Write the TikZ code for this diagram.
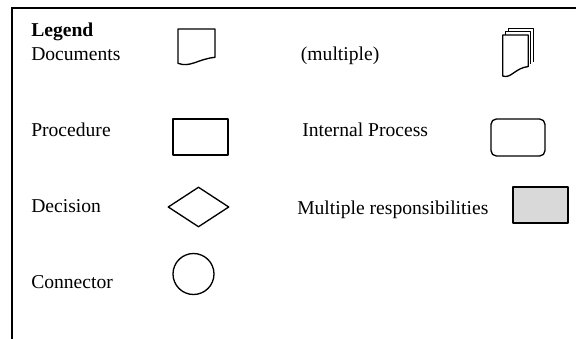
\documentclass[tikz,border=0pt]{standalone}
\usepackage{fontspec}
\setmainfont{Liberation Serif}
\usetikzlibrary{shapes.geometric}

\begin{document}
\begin{tikzpicture}[x=0.75pt,y=-0.75pt,
    lbl/.style={anchor=base west,inner sep=0pt,
                font=\fontsize{14.7}{17}\selectfont},
    outline/.style={draw,line width=1pt,line join=round},
    sym/.style={outline,inner sep=0pt},
    proc/.style={sym,rectangle,minimum width=41.25pt,minimum height=27pt},
    iproc/.style={proc,rounded corners=4pt,minimum width=40.5pt,
                  minimum height=27.75pt},
    multi/.style={proc,fill=black!15},
    decis/.style={sym,diamond,minimum width=45.75pt,minimum height=30pt},
    conn/.style={sym,circle,minimum size=30.75pt},
  ]
    \useasboundingbox (0,0) rectangle (576,339);
    % frame of the legend box
    \draw[line width=1.5pt] (11.5,339) |- (576,7.5);

    % left column
    \node[lbl,font=\fontsize{14.7}{17}\selectfont\bfseries] (legend) at (31,36.5) {Legend};
    \node[lbl] (docs) at (31,60.7) {Documents};
    \node[lbl] (procl) at (31,136) {Procedure};
    \node[lbl] (decl) at (31,212) {Decision};
    \node[lbl] (connl) at (31,288.3) {Connector};

    % right column
    \node[lbl] (multdocs) at (300.7,60.7) {(multiple)};
    \node[lbl] (iprocl) at (302,136) {Internal Process};
    \node[lbl] (multl) at (297,214) {Multiple responsibilities};

    % symbols
    \node[proc] (procbox) at (200.5,137) {};
    \node[iproc] (iprocbox) at (518,137.5) {};
    \node[multi] (multbox) at (540.5,205) {};
    \node[decis] (decbox) at (198.5,207) {};
    \node[conn] (connbox) at (193.5,274) {};

    % single document
    \draw[outline] (178,29) -- (215,29) -- (215,57.3)
      .. controls (198,59) and (190,68) .. (178,63.3) -- cycle;

    % stack of documents
    \draw[outline] (508.3,31.7) -- (508.3,28.3) -- (533.3,28.3) -- (533.3,61.5);
    \draw[outline] (505.5,35) -- (505.5,31.7) -- (530.8,31.7) -- (530.8,64);
    \draw[outline,fill=white] (502.7,35) -- (528.3,35) -- (528.3,66.5)
      .. controls (515,68) and (511,79) .. (502.7,76) -- cycle;
\end{tikzpicture}
\end{document}
